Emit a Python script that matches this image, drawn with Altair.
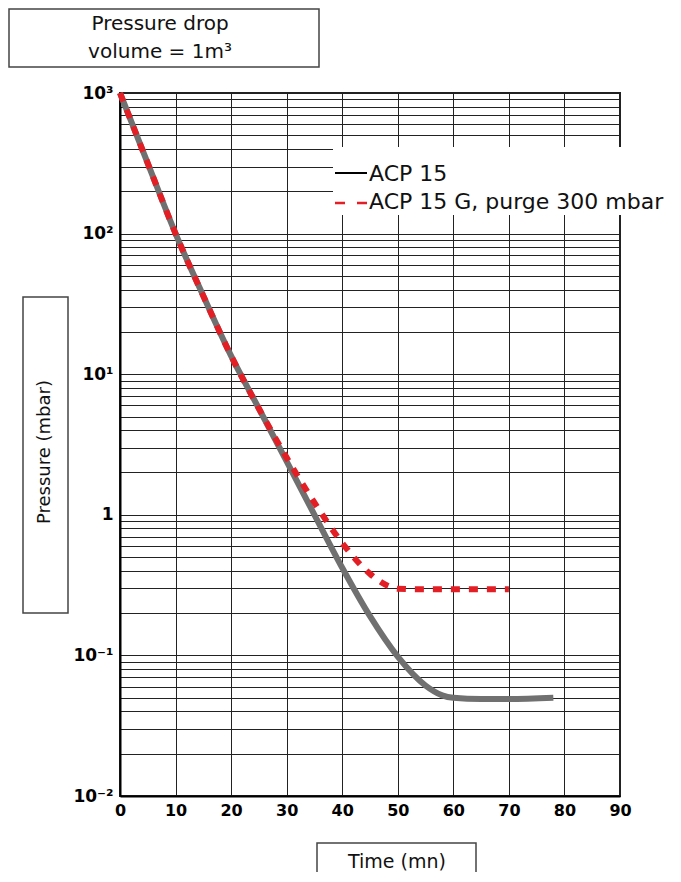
import altair as alt
import pandas as pd

# ---- data ----
time_acp15 = [0, 5, 10, 15, 20, 25, 30, 35, 40, 45, 50, 55, 58, 60, 65, 70, 78]
pressure_acp15 = [1000, 316, 100, 36, 13.5, 5.7, 2.4, 1.0, 0.42, 0.19, 0.098, 0.061, 0.052, 0.05, 0.049, 0.049, 0.05]

time_acp15g = [0, 5, 10, 15, 20, 25, 30, 35, 40, 45, 48, 50, 55, 60, 65, 70]
pressure_acp15g = [1000, 316, 100, 36, 13.5, 5.7, 2.55, 1.22, 0.63, 0.38, 0.315, 0.298, 0.295, 0.295, 0.295, 0.295]

series_names = ["ACP 15", "ACP 15 G, purge 300 mbar"]
x_ticks = [0, 10, 20, 30, 40, 50, 60, 70, 80, 90]
y_label_values = [1000, 100, 10, 1, 0.1, 0.01]
y_label_texts = ["10³", "10²", "10¹", "1", "10⁻¹", "10⁻²"]
y_grid_values = [m * 10 ** e for e in range(-2, 3) for m in range(1, 10)] + [1000]

title_lines = ["Pressure drop", "volume = 1m³"]
y_title = "Pressure (mbar)"
x_title = "Time (mn)"

FONT = "DejaVu Sans"
GREY = "#707070"
RED = "#e31e24"

label_expr = ""
for v, t in zip(y_label_values, y_label_texts):
    label_expr += f"abs(datum.value/{v} - 1) < 1e-6 ? '{t}' : "
label_expr += "''"

df1 = pd.DataFrame({"t": time_acp15, "p": pressure_acp15, "s": series_names[0]})
df2 = pd.DataFrame({"t": time_acp15g, "p": pressure_acp15g, "s": series_names[1]})

x_enc = alt.X(
    "t:Q",
    scale=alt.Scale(domain=[0, 90], nice=False),
    axis=alt.Axis(values=x_ticks, grid=True, gridColor="#222", gridWidth=1,
                  domainColor="#000", domainWidth=2, ticks=False,
                  labelFont=FONT, labelFontWeight="bold", labelFontSize=16,
                  labelColor="#000", labelPadding=6, labelFlush=False, title=None),
)
y_enc = alt.Y(
    "p:Q",
    scale=alt.Scale(type="log", domain=[0.01, 1000], nice=False),
    axis=alt.Axis(values=y_grid_values, labelExpr=label_expr, grid=True,
                  gridColor="#222", gridWidth=1, domainColor="#000", domainWidth=2,
                  ticks=False, labelFont=FONT, labelFontWeight="bold", labelFontSize=17,
                  labelColor="#000", labelPadding=7, labelFlush=False,
                  labelOverlap=False, title=None),
)

grey_line = alt.Chart(df1).mark_line(
    color=GREY, strokeWidth=6, interpolate="monotone"
).encode(x=x_enc, y=y_enc)

red_line = alt.Chart(df2).mark_line(
    color=RED, strokeWidth=6, strokeDash=[9, 9], interpolate="monotone"
).encode(x="t:Q", y="p:Q")

one = pd.DataFrame({"k": [0]})


def box(x0, x1, y0, y1, fill="white", stroke="#444", sw=1.5):
    kw = dict(fill=fill)
    if stroke:
        kw.update(stroke=stroke, strokeWidth=sw)
    else:
        kw.update(strokeWidth=0)
    return alt.Chart(one).mark_rect(**kw).encode(
        x=alt.value(x0), x2=alt.value(x1), y=alt.value(y0), y2=alt.value(y1))


def label(txt, x, y, size, align="left", baseline="alphabetic", angle=0, weight="normal"):
    return alt.Chart(one).mark_text(
        text=txt, font=FONT, fontSize=size, align=align, baseline=baseline,
        angle=angle, fontWeight=weight, color="#111"
    ).encode(x=alt.value(x), y=alt.value(y))


# legend
legend_bg = box(213, 560, 54, 122, stroke=None)
legend_l1 = alt.Chart(one).mark_rule(color="#000", strokeWidth=2).encode(
    x=alt.value(215), x2=alt.value(247), y=alt.value(80))
legend_l2 = alt.Chart(one).mark_rule(color=RED, strokeWidth=2.5, strokeDash=[10, 12]).encode(
    x=alt.value(215), x2=alt.value(247), y=alt.value(110))
legend_t1 = label(series_names[0], 249, 87.5, 22)
legend_t2 = label(series_names[1], 249, 115.5, 22)

# title box
title_box = box(-111, 199, -84, -26)
title_t1 = label(title_lines[0], 40, -63, 20, align="center")
title_t2 = label(title_lines[1], 40, -35, 20, align="center")

# y title box
ytitle_box = box(-97, -52, 204, 520)
ytitle_t = label(y_title, -75, 359, 18, align="center", baseline="middle", angle=270)

# x title box
xtitle_box = box(197, 356, 750, 800)
xtitle_t = label(x_title, 277, 775, 19, align="center")

chart = alt.layer(
    grey_line, red_line,
    legend_bg, legend_l1, legend_l2, legend_t1, legend_t2,
    title_box, title_t1, title_t2,
    ytitle_box, ytitle_t,
    xtitle_box, xtitle_t,
).properties(
    width=500, height=703,
    padding={"left": 112, "top": 85, "right": 53, "bottom": 76},
    autosize=alt.AutoSizeParams(type="none"),
    background="white",
).configure_view(stroke="#222", strokeWidth=2)

chart.save("out.html", embed_options={"renderer": "svg", "actions": False})
